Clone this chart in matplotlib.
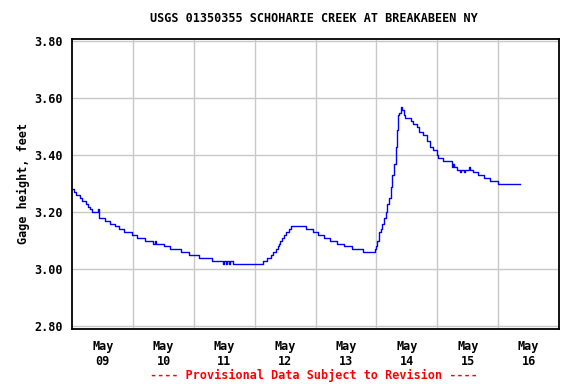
import matplotlib
matplotlib.use("Agg")
import matplotlib.pyplot as plt
from matplotlib.ticker import FixedLocator, NullFormatter

# hours since May 09 00:00, gage height (ft) at each step change
HOURS = [
    0.0, 0.7, 1.5, 3.0, 3.9, 5.4, 6.2, 7.0, 7.8, 10.3, 10.5, 10.7, 12.9,
    14.9, 16.8, 18.5, 20.4, 23.4, 25.4, 28.7, 32.0, 32.6, 33.0, 36.2, 38.5,
    42.8, 46.2, 50.1, 55.2, 59.4, 59.8, 60.6, 61.0, 62.0, 62.4, 63.5, 75.1,
    76.9, 78.4, 79.3, 80.4, 81.3, 81.6, 81.9, 82.7, 83.5, 84.3, 85.4, 86.3,
    92.2, 94.8, 97.0, 99.4, 101.7, 104.5, 107.2, 110.2, 114.8, 119.4, 119.8,
    120.3, 121.0, 121.7, 122.3, 123.0, 123.6, 124.3, 124.9, 125.6, 126.2,
    126.9, 127.6, 128.0, 128.4, 128.9, 129.6, 130.2, 130.9, 131.2, 133.5,
    134.3, 135.9, 136.9, 138.2, 139.8, 141.1, 142.4, 143.8, 144.3, 146.4,
    149.7, 150.2, 150.6, 151.6, 153.0, 153.5, 154.5, 155.0, 156.3, 156.8,
    158.2, 160.2, 162.4, 164.8, 168.1, 176.6,
]
GAGE = [
    3.28, 3.27, 3.26, 3.25, 3.24, 3.23, 3.22, 3.21, 3.20, 3.21, 3.19, 3.18, 3.17,
    3.16, 3.15, 3.14, 3.13, 3.12, 3.11, 3.10, 3.09, 3.10, 3.09, 3.08, 3.07,
    3.06, 3.05, 3.04, 3.03, 3.02, 3.03, 3.02, 3.03, 3.02, 3.03, 3.02, 3.03,
    3.04, 3.05, 3.06, 3.07, 3.08, 3.09, 3.10, 3.11, 3.12, 3.13, 3.14, 3.15,
    3.14, 3.13, 3.12, 3.11, 3.10, 3.09, 3.08, 3.07, 3.06, 3.07, 3.08,
    3.10, 3.13, 3.14, 3.16, 3.18, 3.20, 3.23, 3.25, 3.29, 3.33,
    3.37, 3.43, 3.49, 3.54, 3.55, 3.57, 3.56, 3.54, 3.53, 3.52,
    3.51, 3.50, 3.48, 3.47, 3.45, 3.43, 3.42, 3.40, 3.39, 3.38,
    3.36, 3.37, 3.36, 3.35, 3.34, 3.35, 3.34, 3.35, 3.36, 3.35,
    3.34, 3.33, 3.32, 3.31, 3.30, 3.30,
]
DAY_LABELS = ["May\n09", "May\n10", "May\n11", "May\n12",
              "May\n13", "May\n14", "May\n15", "May\n16"]
Y_TICKS = [2.80, 3.00, 3.20, 3.40, 3.60, 3.80]

TITLE = "USGS 01350355 SCHOHARIE CREEK AT BREAKABEEN NY"
FOOTER = "---- Provisional Data Subject to Revision ----"

plt.rcParams["font.family"] = ["DejaVu Sans Mono"]
plt.rcParams["font.weight"] = "bold"
FS = 8.5

fig = plt.figure(figsize=(5.76, 3.84), dpi=100)
ax = fig.add_axes([0.1255, 0.1432, 0.8450, 0.7565])

ax.plot(HOURS, GAGE, color="#0000ff", linewidth=1.0, drawstyle="steps-post")

ax.set_xlim(0, 24 * len(DAY_LABELS))
ax.set_ylim(2.79, 3.81)

ax.xaxis.set_major_locator(FixedLocator([12 + 24 * i for i in range(len(DAY_LABELS))]))
ax.set_xticklabels(DAY_LABELS, fontsize=FS, fontweight="bold", linespacing=1.2)
ax.xaxis.set_minor_locator(FixedLocator([24 * i for i in range(1, len(DAY_LABELS))]))
ax.xaxis.set_minor_formatter(NullFormatter())
ax.set_yticks(Y_TICKS)
ax.set_yticklabels([f"{v:.2f}" for v in Y_TICKS], fontsize=FS, fontweight="bold")
ax.tick_params(axis="both", which="both", length=0)
ax.tick_params(axis="x", pad=8)
ax.tick_params(axis="y", pad=7)

ax.grid(True, which="minor", axis="x", color="#c8c8c8", linewidth=1.0)
ax.grid(True, which="major", axis="y", color="#c8c8c8", linewidth=1.0)
ax.set_axisbelow(True)
for sp in ax.spines.values():
    sp.set_linewidth(1.3)
    sp.set_color("black")

ax.set_ylabel("Gage height, feet", fontsize=FS, fontweight="bold", labelpad=3)
fig.text(0.545, 0.951, TITLE, ha="center", va="center", fontsize=FS, fontweight="bold")
fig.text(0.545, 0.023, FOOTER, ha="center", va="center", fontsize=FS,
         fontweight="bold", color="#ff0000")

fig.savefig("out.png", dpi=100)
